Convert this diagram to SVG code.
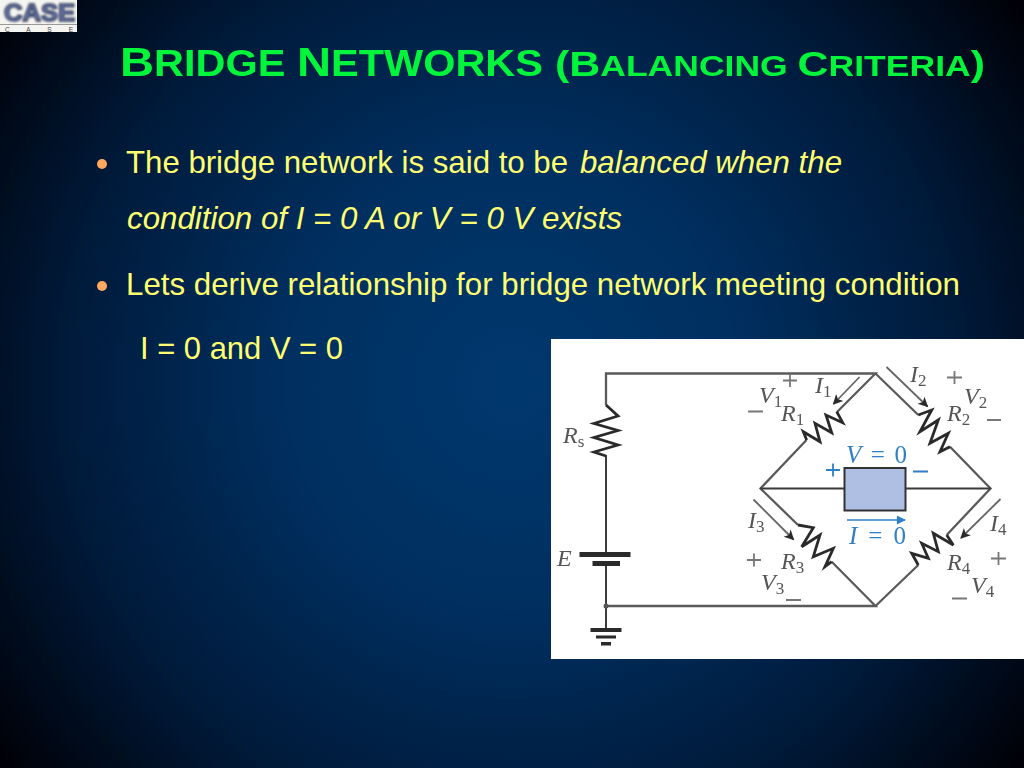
<svg xmlns="http://www.w3.org/2000/svg" width="1024" height="768" viewBox="0 0 1024 768">
<defs>
<radialGradient id="bg" gradientUnits="userSpaceOnUse" cx="512" cy="384" r="640">
<stop offset="0" stop-color="#00386e"/><stop offset="0.35" stop-color="#002f60"/><stop offset="0.7" stop-color="#001a3a"/><stop offset="1" stop-color="#000005"/>
</radialGradient>
<marker id="head" viewBox="0 0 10 10" refX="9" refY="5" markerWidth="13" markerHeight="10" markerUnits="userSpaceOnUse" orient="auto"><path d="M0 0L10 5L0 10L2.5 5Z" fill="#2a2a2a"/></marker>
<marker id="bluehead" viewBox="0 0 10 10" refX="9" refY="5" markerWidth="14" markerHeight="9" markerUnits="userSpaceOnUse" orient="auto"><path d="M0 0L10 5L0 10Z" fill="#2f7fc8"/></marker>
<filter id="soft" x="-2%" y="-2%" width="104%" height="104%"><feGaussianBlur stdDeviation="0.45"/></filter>
<filter id="softer" x="-5%" y="-5%" width="110%" height="110%"><feGaussianBlur stdDeviation="0.8"/></filter>
</defs>
<style>
.body{font-family:"Liberation Sans",Arial,sans-serif;font-size:30.500px;fill:#ffff70}
.it{font-style:italic}
.title{font-family:"Liberation Sans",Arial,sans-serif;font-weight:bold;fill:#00f53a}
.wire{fill:none;stroke:#5a5a5a;stroke-width:2.3}
.thin{fill:none;stroke:#3a3a3a;stroke-width:2}
.zig{fill:none;stroke:#2a2a2a;stroke-width:2.800;stroke-linejoin:miter}
.plate{fill:#2a2a2a}
.cur{fill:none;stroke:#666;stroke-width:1.800;marker-end:url(#head)}
.lab{font-family:"Liberation Serif",serif;font-style:italic;font-size:24px;fill:#555}
.sub{font-size:17px;font-style:normal}
.sign{fill:none;stroke:#777;stroke-width:1.800}
.blue{font-family:"Liberation Serif",serif;font-size:25px;fill:#2f7fc8}
</style>
<rect width="1024" height="768" fill="url(#bg)"/>
<g id="logo">
<rect x="0" y="0" width="77" height="32" fill="#f4f4f0"/>
<text x="4" y="21" font-family="Liberation Sans,sans-serif" font-weight="bold" font-size="24" fill="#6f7fb8" stroke="#2d3550" stroke-width="1.500" textLength="71" lengthAdjust="spacingAndGlyphs" filter="url(#softer)">CASE</text>
<rect x="0" y="24" width="77" height="1" fill="#999"/>
<text x="5" y="31.500" font-family="Liberation Sans,sans-serif" font-size="6.500" fill="#444" textLength="68">C A S E</text>
</g>
<g id="title" filter="url(#soft)">
<text class="title" x="120" y="76" font-size="36" textLength="423" lengthAdjust="spacingAndGlyphs"><tspan font-size="41">B</tspan>RIDGE <tspan font-size="41">N</tspan>ETWORKS</text>
<text class="title" x="555" y="76" font-size="29" textLength="430" lengthAdjust="spacingAndGlyphs"><tspan font-size="35">(B</tspan>ALANCING <tspan font-size="35">C</tspan>RITERIA<tspan font-size="35">)</tspan></text>
</g>
<g id="bullets">
<circle cx="102" cy="164" r="5" fill="#ffa860"/>
<circle cx="102" cy="286" r="5" fill="#ffa860"/>
<text class="body" x="126" y="173" textLength="442" lengthAdjust="spacingAndGlyphs">The bridge network is said to be</text>
<text class="body it" x="580" y="173" textLength="262" lengthAdjust="spacingAndGlyphs">balanced when the</text>
<text class="body it" x="127" y="229" textLength="495" lengthAdjust="spacingAndGlyphs">condition of I = 0 A or V = 0 V exists</text>
<text class="body" x="126" y="295" textLength="834" lengthAdjust="spacingAndGlyphs">Lets derive relationship for bridge network meeting condition</text>
<text class="body" x="140" y="359" textLength="203" lengthAdjust="spacingAndGlyphs">I = 0 and V = 0</text>
</g>
<rect id="panel" x="551" y="339" width="473" height="320" fill="#fff"/>
<g filter="url(#soft)">
<g id="connectors">
<path class="wire" d="M606 405V373.500H875.500L837 412M806.500 440L760.500 488.500L798 525M831.700 561.700L875.500 606H606"/>
<path class="wire" d="M875.500 373.500L918.300 415M950 446.700L990.500 488.500L946.700 535M918.300 565L875.500 606"/>
<path class="thin" d="M606 455V553M606 564V630"/>
<path class="thin" d="M760.500 488.500H844M906 488.500H990.500"/>
</g>
<g id="Rs"><path class="zig" d="M606 405L618 416L594 423.500L618 430.500L594 437.500L618 445L594 452L606 456"/>
<text class="lab" x="563" y="443">R<tspan class="sub" dy="4">s</tspan></text></g>
<g id="E">
<rect class="plate" x="579.500" y="552" width="51" height="5"/>
<rect class="plate" x="592.500" y="561" width="27.500" height="5"/>
<text class="lab" x="557" y="566">E</text></g>
<g id="ground">
<circle cx="606" cy="606" r="2.500" fill="#555"/>
<rect class="plate" x="590.500" y="628" width="31" height="4"/>
<rect class="plate" x="596" y="635.500" width="20" height="3"/>
<rect class="plate" x="601" y="642" width="10" height="3.500"/>
</g>
<g id="R1"><path class="zig" d="M836.700 411.700L842.700 422.700L826 415L831.700 432.700L815 423.300L820 441.700L803.300 431.700L806.700 440"/>
<path class="cur" d="M859.500 377L833.500 404"/>
<text class="lab" x="815" y="393">I<tspan class="sub" dy="4">1</tspan></text>
<text class="lab" x="781" y="421">R<tspan class="sub" dy="4">1</tspan></text>
<text class="lab" x="759" y="403">V<tspan class="sub" dy="4">1</tspan></text>
<path class="sign" d="M748 411.500H763M783 380.500H797M790 374V387"/></g>
<g id="R2"><path class="zig" d="M918.300 415L931.700 410L920 431.700L938.300 420L930 443.300L948.300 433.300L940 451.700L950 446.700"/>
<path class="cur" d="M886.500 367L927.500 406.500"/>
<text class="lab" x="910" y="382">I<tspan class="sub" dy="4">2</tspan></text>
<text class="lab" x="947" y="421">R<tspan class="sub" dy="4">2</tspan></text>
<text class="lab" x="964" y="404">V<tspan class="sub" dy="4">2</tspan></text>
<path class="sign" d="M987 420H1001M947 377.500H962M954.500 371V384"/></g>
<g id="R3"><path class="zig" d="M798 525L813.300 527.700L801.700 546.700L820 535L813.300 556.700L833.300 548.300L825 566.700L831.700 561.700"/>
<path class="cur" d="M753.500 499.500L793.500 539.500"/>
<text class="lab" x="748" y="528">I<tspan class="sub" dy="4">3</tspan></text>
<text class="lab" x="781" y="569">R<tspan class="sub" dy="4">3</tspan></text>
<text class="lab" x="761" y="590">V<tspan class="sub" dy="4">3</tspan></text>
<path class="sign" d="M786 600H801M747 560H761M754 553.500V566.500"/></g>
<g id="R4"><path class="zig" d="M946.700 535L953.300 545L933.300 533.300L938.300 551.700L921.700 543.300L928.300 558.300L911.700 553.300L918.300 565"/>
<path class="cur" d="M1000.500 499L961 538"/>
<text class="lab" x="990" y="531">I<tspan class="sub" dy="4">4</tspan></text>
<text class="lab" x="947" y="570">R<tspan class="sub" dy="4">4</tspan></text>
<text class="lab" x="971" y="593">V<tspan class="sub" dy="4">4</tspan></text>
<path class="sign" d="M952 598.500H967M991 558.500H1006M998.500 552V565"/></g>
<g id="meter">
<rect x="844.500" y="468" width="61" height="42.500" fill="#aebfe3" stroke="#333" stroke-width="2"/>
<text class="blue" x="846" y="463" textLength="61"><tspan font-style="italic">V</tspan> = 0</text>
<path d="M826 470H840M833 463.500V476.500M913 471.500H928" fill="none" stroke="#2f7fc8" stroke-width="1.800"/>
<path d="M847 520H905" fill="none" stroke="#2f7fc8" stroke-width="1.500" marker-end="url(#bluehead)"/>
<text class="blue" x="849" y="544" textLength="57"><tspan font-style="italic">I</tspan> = 0</text>
</g>
</g>
</svg>
